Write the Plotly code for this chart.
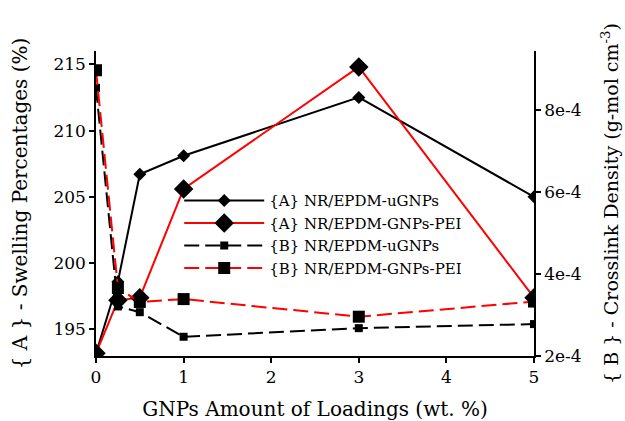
import plotly.graph_objects as go

# GNPs loading (wt. %)
loading = [0, 0.25, 0.5, 1, 3, 5]

# {A} swelling percentages (%)
swell_ugnps = [193.2, 198.6, 206.7, 208.1, 212.5, 205.0]
swell_pei = [193.2, 197.2, 197.4, 205.6, 214.8, 197.4]

# {B} crosslink density (g-mol cm-3)
xlink_ugnps = [8.55e-4, 3.21e-4, 3.07e-4, 2.47e-4, 2.68e-4, 2.78e-4]
xlink_pei = [8.98e-4, 3.66e-4, 3.32e-4, 3.39e-4, 2.96e-4, 3.33e-4]

names = ["{A} NR/EPDM-uGNPs", "{A} NR/EPDM-GNPs-PEI",
         "{B} NR/EPDM-uGNPs", "{B} NR/EPDM-GNPs-PEI"]

left_ticks = [195, 200, 205, 210, 215]
right_ticks = [2e-4, 4e-4, 6e-4, 8e-4]
right_tick_text = ["2e-4", "4e-4", "6e-4", "8e-4"]
x_ticks = [0, 1, 2, 3, 4, 5]

FONT = "DejaVu Serif"
DASH = "15px,6px"

fig = go.Figure()
fig.add_trace(go.Scatter(
    x=loading, y=swell_ugnps, name=names[0], mode="lines+markers",
    line=dict(color="black", width=2),
    marker=dict(symbol="diamond", size=10, color="black")))
fig.add_trace(go.Scatter(
    x=loading, y=swell_pei, name=names[1], mode="lines+markers",
    line=dict(color="red", width=2),
    marker=dict(symbol="diamond", size=15, color="black")))
fig.add_trace(go.Scatter(
    x=loading, y=xlink_ugnps, name=names[2], mode="lines+markers", yaxis="y2",
    line=dict(color="black", width=2, dash=DASH),
    marker=dict(symbol="square", size=8, color="black")))
fig.add_trace(go.Scatter(
    x=loading, y=xlink_pei, name=names[3], mode="lines+markers", yaxis="y2",
    line=dict(color="red", width=2, dash=DASH),
    marker=dict(symbol="square", size=12, color="black")))

axis_common = dict(showline=True, linecolor="black", linewidth=1.5,
                   ticks="outside", ticklen=5, tickcolor="black", tickwidth=1.5,
                   showgrid=False, zeroline=False, automargin=False,
                   tickfont=dict(family=FONT, size=17, color="black"))

fig.update_layout(
    width=625, height=421,
    margin=dict(l=96, r=91, t=51, b=65, autoexpand=False),
    paper_bgcolor="white", plot_bgcolor="white",
    font=dict(family=FONT, color="black", size=15),
    xaxis=dict(range=[0, 5], tickvals=x_ticks,
               title=dict(text="GNPs Amount of Loadings (wt. %)",
                          font=dict(family=FONT, size=20, color="black"), standoff=22),
               **axis_common),
    yaxis=dict(range=[193, 216], tickvals=left_ticks,
               title=dict(text="{ A } - Swelling Percentages (%)",
                          font=dict(family=FONT, size=20, color="black"), standoff=20),
               **axis_common),
    yaxis2=dict(range=[2e-4, 9.45e-4], tickvals=right_ticks, ticktext=right_tick_text,
                overlaying="y", side="right", anchor="x",
                title=dict(text="{ B } - Crosslink Density (g-mol cm<sup>-3</sup>)",
                           font=dict(family=FONT, size=19, color="black"), standoff=24),
                **axis_common),
    legend=dict(x=0.19, y=0.563, xanchor="left", yanchor="top",
                bgcolor="rgba(0,0,0,0)", borderwidth=0,
                font=dict(family=FONT, size=15, color="black"),
                itemwidth=80, tracegroupgap=0),
    showlegend=True,
)

fig.write_html("out.html")
